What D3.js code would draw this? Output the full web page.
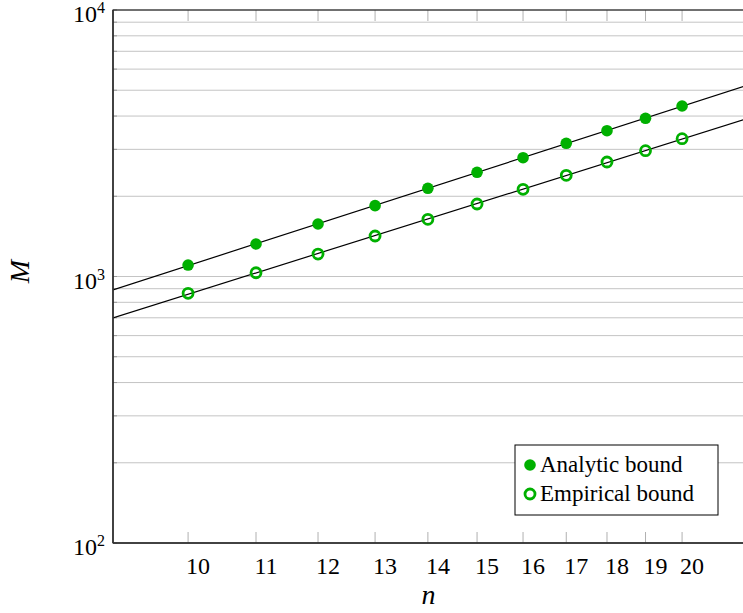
<!DOCTYPE html>
<html>
<head>
<meta charset="utf-8">
<script src="https://cdn.jsdelivr.net/npm/d3@7"></script>
<style>
  body { margin: 0; background: #fff; }
  text { font-family: "Liberation Serif", "DejaVu Serif", serif; fill: #000; }
</style>
</head>
<body>
<div id="chart"></div>
<script>
// 数据
const nValues = [10, 11, 12, 13, 14, 15, 16, 17, 18, 19, 20];
const analyticBound = [1104, 1324, 1574, 1844, 2143, 2460, 2791, 3161, 3525, 3923, 4363];
const empiricalBound = [865, 1033, 1214, 1419, 1639, 1871, 2124, 2397, 2689, 2965, 3289];
const seriesNames = ["Analytic bound", "Empirical bound"];
const yTickValues = [100, 1000, 10000];
const yTickExponents = ["2", "3", "4"];

const green = "#00b000";
const gridColor = "#c4c4c4";

const margin = { top: 10, right: 0, bottom: 70, left: 113 };
const width = 637;
const height = 533;

// 创建 SVG 容器
const root = d3
    .select("#chart")
    .append("svg")
    .attr("width", 743)
    .attr("height", 613);

const svg = root
    .append("g")
    .attr("transform", `translate(${margin.left},${margin.top})`);

// 比例尺（双对数）
const x = d3.scaleLog().domain([9, 22]).range([0, width]);
const y = d3.scaleLog().domain([100, 10000]).range([height, 0]);

// 裁剪区域
svg.append("clipPath")
    .attr("id", "plot-clip")
    .append("rect")
    .attr("width", width)
    .attr("height", height);

// 水平网格线（主 + 次）
svg.append("g")
    .selectAll("line")
    .data(y.ticks())
    .enter()
    .append("line")
    .attr("x1", 0)
    .attr("x2", width)
    .attr("y1", d => y(d))
    .attr("y2", d => y(d))
    .attr("stroke", gridColor)
    .attr("stroke-width", 1);

// 左侧次刻度
svg.append("g")
    .selectAll("line")
    .data(y.ticks())
    .enter()
    .append("line")
    .attr("x1", 0)
    .attr("x2", 4)
    .attr("y1", d => y(d))
    .attr("y2", d => y(d))
    .attr("stroke", "#999")
    .attr("stroke-width", 1);

// X 轴刻度（上下，灰色，向内）
const xTicks = svg.append("g");
xTicks.selectAll(".tick-b")
    .data(nValues)
    .enter()
    .append("line")
    .attr("x1", d => x(d))
    .attr("x2", d => x(d))
    .attr("y1", height)
    .attr("y2", height - 11)
    .attr("stroke", "#b0b0b0");
xTicks.selectAll(".tick-t")
    .data(nValues)
    .enter()
    .append("line")
    .attr("x1", d => x(d))
    .attr("x2", d => x(d))
    .attr("y1", 0)
    .attr("y2", 11)
    .attr("stroke", "#b0b0b0");

// X 轴标签
svg.append("g")
    .selectAll("text")
    .data(nValues)
    .enter()
    .append("text")
    .attr("x", d => x(d) + 10)
    .attr("y", height + 31)
    .attr("text-anchor", "middle")
    .attr("font-size", "24px")
    .text(d => d);

// Y 轴标签（10 的幂）
const yLabels = svg.append("g")
    .selectAll("text")
    .data(yTickValues)
    .enter()
    .append("text")
    .attr("x", -8)
    .attr("y", d => y(d) + 12)
    .attr("text-anchor", "end")
    .attr("font-size", "24px");
yLabels.append("tspan").text("10");
yLabels.append("tspan")
    .attr("dy", -9)
    .attr("font-size", "16px")
    .text((d, i) => yTickExponents[i]);

// 坐标轴标题
svg.append("text")
    .attr("x", width / 2 - 3)
    .attr("y", height + 61)
    .attr("text-anchor", "middle")
    .attr("font-size", "28px")
    .attr("font-style", "italic")
    .text("n");

svg.append("text")
    .attr("transform", `translate(${-margin.left + 29},${height / 2 - 5}) rotate(-90)`)
    .attr("text-anchor", "middle")
    .attr("font-size", "28px")
    .attr("font-style", "italic")
    .text("M");

// 拟合直线（对数空间最小二乘）
function fitPower(xs, ys) {
    const lx = xs.map(Math.log);
    const ly = ys.map(Math.log);
    const mx = d3.mean(lx);
    const my = d3.mean(ly);
    const b = d3.sum(lx, (v, i) => (v - mx) * (ly[i] - my)) / d3.sum(lx, v => (v - mx) ** 2);
    const a = my - b * mx;
    return n => Math.exp(a + b * Math.log(n));
}

const line = d3.line()
    .x(d => x(d[0]))
    .y(d => y(d[1]));

[analyticBound, empiricalBound].forEach(values => {
    const f = fitPower(nValues, values);
    svg.append("path")
        .datum(x.domain().map(n => [n, f(n)]))
        .attr("clip-path", "url(#plot-clip)")
        .attr("fill", "none")
        .attr("stroke", "#000")
        .attr("stroke-width", 1.2)
        .attr("d", line);
});

// 数据点
svg.append("g")
    .selectAll("circle")
    .data(analyticBound)
    .enter()
    .append("circle")
    .attr("cx", (d, i) => x(nValues[i]))
    .attr("cy", d => y(d))
    .attr("r", 5.8)
    .attr("fill", green);

svg.append("g")
    .selectAll("circle")
    .data(empiricalBound)
    .enter()
    .append("circle")
    .attr("cx", (d, i) => x(nValues[i]))
    .attr("cy", d => y(d))
    .attr("r", 5)
    .attr("fill", "none")
    .attr("stroke", green)
    .attr("stroke-width", 2.8);

// 边框
svg.append("rect")
    .attr("width", width)
    .attr("height", height)
    .attr("fill", "none")
    .attr("stroke", "#000")
    .attr("stroke-width", 1);
svg.append("line")
    .attr("x1", 0).attr("x2", width)
    .attr("y1", height).attr("y2", height)
    .attr("stroke", "#333").attr("stroke-width", 1.6);
svg.append("line")
    .attr("x1", 0).attr("x2", 0)
    .attr("y1", 0).attr("y2", height)
    .attr("stroke", "#333").attr("stroke-width", 1.6);

// 图例
const legend = svg.append("g")
    .attr("transform", `translate(${515 - margin.left},${445 - margin.top})`);

legend.append("rect")
    .attr("width", 203)
    .attr("height", 70)
    .attr("fill", "#fff")
    .attr("stroke", "#000")
    .attr("stroke-width", 1);

seriesNames.forEach((name, i) => {
    const item = legend.append("g")
        .attr("transform", `translate(0, ${20 + i * 29})`);
    if (i === 0) {
        item.append("circle")
            .attr("cx", 15)
            .attr("r", 5.8)
            .attr("fill", green);
    } else {
        item.append("circle")
            .attr("cx", 15)
            .attr("r", 5)
            .attr("fill", "none")
            .attr("stroke", green)
            .attr("stroke-width", 2.8);
    }
    item.append("text")
        .attr("x", 25)
        .attr("y", 7)
        .attr("font-size", "23px")
        .text(name);
});
</script>
</body>
</html>
